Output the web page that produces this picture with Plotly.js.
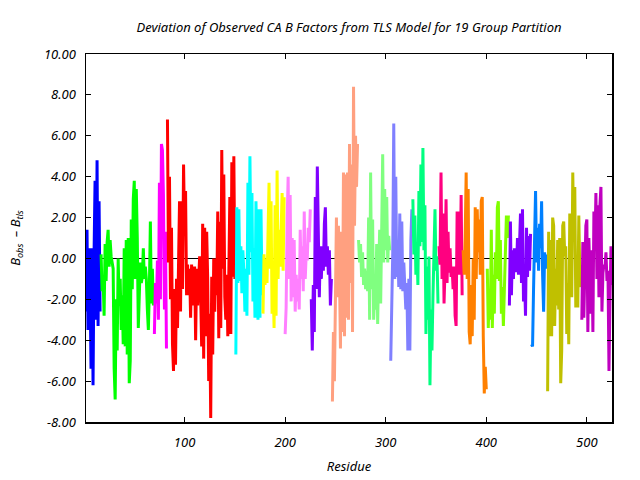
<!DOCTYPE html>
<html>
<head>
<meta charset="utf-8">
<script src="https://cdn.plot.ly/plotly-3.0.1.min.js"></script>
<style>html,body{margin:0;padding:0;background:#fff;}#chart{width:640px;height:480px;}</style>
</head>
<body>
<div id="chart"></div>
<script>
// Group colours and first residue of each group
const groupColors = ["#0000ff","#00ff00","#ff00ff","#ff0000","#00ffff","#ffff00","#ff80ff","#8000ff","#ffa080","#80ff80","#8080ff","#00ff80","#ff0080","#ff8000","#80ff00","#8000ff","#0080ff","#c0c000","#c000c0"];
const groupStarts = [2,17,70,83,151,178,200,226,247,273,305,327,353,377,401,423,445,461,495];

// B_obs - B_tls per group
const g1 = [-2.6,1.4,-3.5,0.5,-1.0,-5.4,0.5,-6.2,0.2,3.8,-3.0,4.8,-3.3,2.8,-2.6];
const g2 = [0.2,-1.6,-1.0,-2.8,0.7,-1.1,0.8,1.4,-0.4,0.9,0.1,-0.2,-0.5,-5.4,-6.9,-2.0,-4.5,0.0,-2.3,-1.0,-3.5,-1.8,-4.2,0.5,-4.3,0.9,-4.7,1.0,-6.1,-5.0,1.9,-1.5,2.9,3.8,-1.0,3.4,1.0,-3.4,-1.6,-0.2,-1.2,-0.9,0.5,-1.0,-0.4,-1.0,-2.5,-3.5,-1.5,1.8,-2.2,-0.5,-2.3];
const g3 = [-3.7,-1.2,-2.2,-0.1,-3.0,3.7,-2.0,5.6,5.3,3.1,-2.5,1.3,-4.4];
const g4 = [6.8,-0.2,4.0,-2.0,1.5,-4.2,-5.5,-1.5,-5.2,-1.0,-3.4,1.3,2.8,-2.6,2.8,-1.5,4.6,1.3,3.3,-1.8,-0.3,-1.8,-0.5,-2.9,-0.3,-2.3,-0.8,-0.4,-4.0,-0.5,-2.3,-0.4,0.1,-1.8,-4.3,1.7,-4.9,1.5,-3.8,1.3,-1.0,-6.0,-2.7,-7.8,-0.9,-4.7,0.0,-2.6,0.0,-1.8,2.3,-3.9,1.8,-3.4,5.3,-0.5,4.1,-1.9,-3.0,-0.8,-3.8,-0.8,3.0,-3.7,4.7,-0.9,5.0,-1.0];
const g5 = [-4.7,2.5,-1.2,2.4,-1.1,0.6,-1.7,0.4,-0.7,-2.6,-0.5,-2.8,3.7,-0.8,5.0,0.3,3.2,-2.1,0.5,-2.9,2.8,-0.2,-3.0,2.4,-2.9,2.4,-1.8];
const g6 = [-2.7,0.2,-1.3,0.0,-1.2,1.5,3.7,-0.5,2.8,-2.7,-1.2,-3.4,2.6,-2.8,4.3,-1.0,1.4,-0.4,1.4,3.2,-0.6,3.0];
const g7 = [-3.7,-2.4,1.9,4.0,-1.0,3.1,-2.1,1.0,-1.9,0.9,-2.6,-0.8,-2.1,-1.0,-2.5,1.4,-1.0,0.6,-1.6,2.3,-1.0,0.3,-0.1,1.5,0.8,2.4];
const g8 = [-2.0,-4.5,-1.3,-3.6,3.0,-1.5,4.5,1.3,-1.9,0.6,-1.0,0.6,-0.6,1.7,2.5,-0.4,0.6,-0.8,0.4,-2.3,-1.0];
const g9 = [-7.0,-3.6,-6.0,0.0,2.0,-1.9,1.6,-0.7,-4.4,1.3,-3.6,4.2,-3.8,4.1,-2.9,4.2,-3.0,5.6,-1.2,4.6,-3.6,8.4,1.6,6.0,3.5,5.6];
const g10 = [0.9,-0.2,0.7,-0.9,0.3,-1.3,-0.5,-1.5,-0.6,-1.6,2.0,-3.0,4.2,-1.5,1.9,-3.0,-1.8,-2.5,0.7,-3.2,-0.6,1.4,-2.2,3.0,5.1,-0.2,3.4,0.4,3.0,-0.2,1.1,0.4];
const g11 = [-5.0,-2.8,0.3,6.6,-1.0,4.0,-0.9,0.5,-1.4,2.2,-1.5,1.8,-1.6,-0.2,-1.1,-2.5,-1.2,-4.5,-1.0,-4.5,0.9,2.4];
const g12 = [2.9,0.2,2.1,-0.8,0.6,-1.3,3.3,0.6,4.6,0.8,5.4,0.4,2.6,-3.7,-0.4,-3.0,0.1,-6.2,-2.5,-4.5,-1.8,1.5,2.4,-0.6,0.1,-2.2];
const g13 = [0.6,-0.3,4.2,-1.0,2.2,-2.2,-0.5,2.9,-1.2,1.3,-0.7,0.5,-0.9,-0.4,-1.5,-0.4,-2.8,-3.3,2.3,-0.8,2.3,-0.8,3.1,-1.8];
const g14 = [0.4,-0.8,1.0,4.2,-1.0,3.4,-3.6,-4.2,-1.3,-3.8,0.0,-3.0,2.5,-1.0,2.4,0.3,1.9,-0.8,2.8,3.0,-3.8,-6.6,-5.3,-6.4];
const g15 = [-0.5,-3.4,-1.5,-3.0,1.4,-3.4,-0.8,-2.7,0.3,-1.0,2.5,2.8,-1.1,0.9,-2.7,-1.4,-3.3,-1.0,-0.2,2.1,1.0,2.1];
const g16 = [-2.3,1.8,-1.8,0.4,-1.0,0.5,-0.6,-0.6,1.0,-0.8,0.6,2.2,-1.2,2.4,-2.1,-0.9,-2.8,1.5,-0.9,1.1,-0.6,1.2];
const g17 = [-4.2,-4.3,-1.5,2.2,3.3,-0.2,1.5,-0.6,1.7,0.5,2.8,-0.8,-2.6,0.3,-0.5,0.2];
const g18 = [-6.5,1.3,-3.8,0.9,-3.8,2.0,1.6,-3.3,-0.5,-2.3,0.9,-2.5,1.0,-6.1,-4.5,1.6,1.8,0.1,0.6,-3.7,-1.2,-4.2,2.2,1.8,-1.9,4.2,0.8,3.5,-2.4,-1.1,-2.4,2.1,-0.8,-1.4];
const g19 = [-3.0,0.8,-2.9,-0.5,1.6,1.9,-3.6,1.0,-1.5,-2.7,0.4,-3.6,2.3,0.5,3.2,-1.0,2.6,-1.9,2.6,3.5,-2.6,-0.7,-0.3,-0.5,0.3,-1.1,-0.6,-5.5,-2.0,0.6,-1.3];

const groups = [g1,g2,g3,g4,g5,g6,g7,g8,g9,g10,g11,g12,g13,g14,g15,g16,g17,g18,g19];
const yTicks = [-8,-6,-4,-2,0,2,4,6,8,10];
const xTicks = [100,200,300,400,500];

const FONT = "Noto Sans, DejaVu Sans, sans-serif";

const traces = groups.map((vals, gi) => {
  const xs = vals.map((v, i) => groupStarts[gi] + i);
  return {
    x: xs, y: vals, type: "scatter", mode: "lines",
    line: {color: groupColors[gi], width: 3},
    hoverinfo: "skip", showlegend: false
  };
});

const layout = {
  width: 640, height: 480,
  margin: {l: 86, r: 28, t: 54, b: 58},
  paper_bgcolor: "#fff", plot_bgcolor: "#fff",
  showlegend: false,
  title: {text: "Deviation of Observed CA B Factors from TLS Model for 19 Group Partition",
          font: {family: FONT, size: 13, color: "#000", style: "italic"},
          x: 0.5, xref: "paper", xanchor: "center", y: 0.943, yref: "container", yanchor: "middle"},
  xaxis: {range: [2, 525], tickvals: xTicks, ticktext: xTicks.map(String),
          ticks: "inside", ticklen: 5, tickcolor: "#000", tickwidth: 1,
          showline: true, linecolor: "#000", linewidth: 1.5, mirror: "ticks",
          showgrid: false, zeroline: false, ticklabelstandoff: 8,
          tickfont: {family: FONT, size: 13, color: "#000", style: "italic"},
          title: {text: "Residue", font: {family: FONT, size: 13, color: "#000", style: "italic"}, standoff: 12}},
  yaxis: {range: [-8, 10], tickvals: yTicks, ticktext: yTicks.map(v => v.toFixed(2)),
          ticks: "inside", ticklen: 5, tickcolor: "#000", tickwidth: 1,
          showline: true, linecolor: "#000", linewidth: 1.5, mirror: "ticks",
          showgrid: false, zeroline: true, zerolinecolor: "#000", zerolinewidth: 1,
          ticklabelstandoff: 6,
          tickfont: {family: FONT, size: 13, color: "#000", style: "italic"},
          title: {text: "B<sub>obs</sub>  \u2013 B<sub>tls</sub>", font: {family: FONT, size: 13, color: "#000", style: "italic"}, standoff: 20}}
};

Plotly.newPlot("chart", traces, layout, {staticPlot: true, displayModeBar: false});
</script>
</body>
</html>
